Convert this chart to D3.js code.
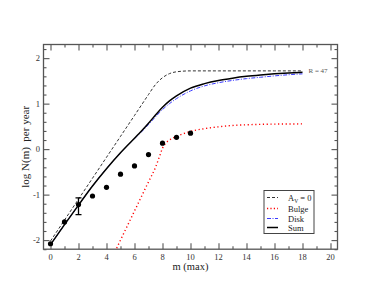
<!DOCTYPE html>
<html>
<head>
<meta charset="utf-8">
<script src="https://cdn.jsdelivr.net/npm/d3@7"></script>
<style>
  body { margin: 0; background: #fff; }
  svg { display: block; }
  svg text { font-family: "Liberation Serif", "Times New Roman", Times, "DejaVu Serif", serif; }
</style>
</head>
<body>
<div id="chart"></div>
<script>
const width = 380;
const height = 294;

// observed points (m, log N)
const obsM = [0, 1, 2, 3, 4, 5, 6, 7, 8, 9, 10];
const obsLogN = [-2.08, -1.6, -1.22, -1.03, -0.84, -0.55, -0.37, -0.12, 0.13, 0.26, 0.35];
const errM = 2;
const errLo = -1.44;
const errHi = -1.07;

// model curves
const avZeroM = [0, 1, 2, 3, 4, 5, 6, 6.5, 7, 7.5, 8, 8.5, 9, 10, 12, 14, 16, 18];
const avZeroN = [-2.02, -1.56, -1.1, -0.64, -0.18, 0.28, 0.74, 0.97, 1.2, 1.42, 1.57, 1.66, 1.7, 1.72, 1.72, 1.72, 1.72, 1.72];

const sumM = [0, 1, 2, 3, 4, 5, 6, 6.5, 7, 7.5, 8, 8.5, 9, 10, 11, 12, 13, 14, 15, 16, 17, 18];
const sumN = [-2.1, -1.66, -1.23, -0.81, -0.43, -0.08, 0.24, 0.4, 0.57, 0.75, 0.92, 1.06, 1.17, 1.34, 1.44, 1.51, 1.56, 1.6, 1.63, 1.655, 1.675, 1.69];

const diskM = [0, 1, 2, 3, 4, 5, 6, 6.5, 7, 7.5, 8, 8.5, 9, 10, 11, 12, 13, 14, 15, 16, 17, 18];
const diskN = [-2.1, -1.66, -1.23, -0.81, -0.43, -0.08, 0.23, 0.38, 0.54, 0.71, 0.87, 1.0, 1.11, 1.28, 1.39, 1.46, 1.51, 1.55, 1.58, 1.61, 1.635, 1.655];

const bulgeM = [4.5, 5, 5.5, 6, 6.5, 7, 7.5, 7.8, 8, 8.2, 8.5, 9, 9.5, 10, 11, 12, 13, 14, 15, 16, 17, 18];
const bulgeN = [-2.33, -2.0, -1.68, -1.36, -1.04, -0.72, -0.4, -0.15, 0.02, 0.12, 0.2, 0.28, 0.34, 0.39, 0.45, 0.49, 0.52, 0.535, 0.545, 0.55, 0.552, 0.555];

const xMajor = [0, 2, 4, 6, 8, 10, 12, 14, 16, 18, 20];
const xMinor = [1, 3, 5, 7, 9, 11, 13, 15, 17, 19];
const yMajor = [-2, -1, 0, 1, 2];
const yMinor = [-2.2, -1.8, -1.6, -1.4, -1.2, -0.8, -0.6, -0.4, -0.2, 0.2, 0.4, 0.6, 0.8, 1.2, 1.4, 1.6, 1.8, 2.2];

const legendLabels = ["Av", "Bulge", "Disk", "Sum"];

const x = d3.scaleLinear().domain([-0.5, 20.5]).range([43.5, 337.5]);
const y = d3.scaleLinear().domain([-2.2, 2.3]).range([249.2, 44.5]);

const svg = d3.select("#chart").append("svg")
  .attr("width", width)
  .attr("height", height);

const plotBottom = y.range()[0], plotTop = y.range()[1];
const plotLeft = x.range()[0], plotRight = x.range()[1];

svg.append("defs").append("clipPath").attr("id", "plotclip")
  .append("rect")
  .attr("x", plotLeft).attr("y", plotTop)
  .attr("width", plotRight - plotLeft)
  .attr("height", plotBottom - plotTop);

const frameColor = "#555";

// axes: ticks pointing inward on all four sides
function tickAxis(axisFn, scale, vals, size, pos) {
  const g = svg.append("g")
    .attr("transform", pos)
    .call(axisFn(scale).tickValues(vals).tickSize(size).tickFormat(""));
  g.select(".domain").remove();
  g.selectAll(".tick line").attr("stroke", frameColor).attr("stroke-width", 1.1);
  return g;
}

tickAxis(d3.axisTop, x, xMajor, 6, `translate(0,${plotBottom})`);
tickAxis(d3.axisTop, x, xMinor, 3, `translate(0,${plotBottom})`);
tickAxis(d3.axisBottom, x, xMajor, 6, `translate(0,${plotTop})`);
tickAxis(d3.axisBottom, x, xMinor, 3, `translate(0,${plotTop})`);
tickAxis(d3.axisRight, y, yMajor, 6, `translate(${plotLeft},0)`);
tickAxis(d3.axisRight, y, yMinor, 3, `translate(${plotLeft},0)`);
tickAxis(d3.axisLeft, y, yMajor, 6, `translate(${plotRight},0)`);
tickAxis(d3.axisLeft, y, yMinor, 3, `translate(${plotRight},0)`);

svg.append("rect")
  .attr("x", plotLeft).attr("y", plotTop)
  .attr("width", plotRight - plotLeft).attr("height", plotBottom - plotTop)
  .attr("fill", "none").attr("stroke", frameColor).attr("stroke-width", 1.3);

// tick labels
svg.append("g").selectAll("text").data(xMajor).join("text")
  .attr("x", d => x(d)).attr("y", plotBottom + 10.3)
  .attr("text-anchor", "middle").attr("font-size", 8.5).attr("fill", "#333")
  .text(d => d);
svg.append("g").selectAll("text").data(yMajor).join("text")
  .attr("x", plotLeft - 3.5).attr("y", d => y(d) + 3)
  .attr("text-anchor", "end").attr("font-size", 8.5).attr("fill", "#333")
  .text(d => d);

// axis titles
svg.append("text")
  .attr("x", (plotLeft + plotRight) / 2).attr("y", 270)
  .attr("text-anchor", "middle").attr("font-size", 10.5).attr("fill", "#222")
  .text("m (max)");
svg.append("text")
  .attr("transform", `translate(29,${(plotTop + plotBottom) / 2}) rotate(-90)`)
  .attr("text-anchor", "middle").attr("font-size", 11).attr("fill", "#222")
  .style("white-space", "pre")
  .text("log N(m)  per year");

// curves
const line = d3.line().x(d => x(d[0])).y(d => y(d[1])).curve(d3.curveMonotoneX);
const plot = svg.append("g").attr("clip-path", "url(#plotclip)");

plot.append("path").datum(d3.zip(avZeroM, avZeroN))
  .attr("d", line).attr("fill", "none")
  .attr("stroke", "#333").attr("stroke-width", 1).attr("stroke-dasharray", "3,2");
plot.append("path").datum(d3.zip(bulgeM, bulgeN))
  .attr("d", line).attr("fill", "none")
  .attr("stroke", "#f00").attr("stroke-width", 1.4).attr("stroke-dasharray", "1.2,2.6");
plot.append("path").datum(d3.zip(diskM, diskN))
  .attr("d", line).attr("fill", "none")
  .attr("stroke", "#3a3aff").attr("stroke-width", 1).attr("stroke-dasharray", "4,1.5,1,1.5");
plot.append("path").datum(d3.zip(sumM, sumN))
  .attr("d", line).attr("fill", "none")
  .attr("stroke", "#000").attr("stroke-width", 1.5);

// error bar at m = 2
const eb = plot.append("g").attr("stroke", "#000").attr("stroke-width", 1.3);
eb.append("line").attr("x1", x(errM)).attr("x2", x(errM)).attr("y1", y(errLo)).attr("y2", y(errHi));
eb.append("line").attr("x1", x(errM) - 3).attr("x2", x(errM) + 3).attr("y1", y(errLo)).attr("y2", y(errLo));
eb.append("line").attr("x1", x(errM) - 3).attr("x2", x(errM) + 3).attr("y1", y(errHi)).attr("y2", y(errHi));

plot.append("g").selectAll("circle").data(d3.zip(obsM, obsLogN)).join("circle")
  .attr("cx", d => x(d[0])).attr("cy", d => y(d[1])).attr("r", 2.6)
  .attr("fill", "#000");

// R = 47 label
svg.append("text")
  .attr("x", x(18) + 6).attr("y", y(1.72) + 2.5)
  .attr("font-size", 7).attr("fill", "#555")
  .text("R = 47");

// legend
const lg = svg.append("g");
lg.append("rect")
  .attr("x", 264).attr("y", 190.5).attr("width", 50).attr("height", 43)
  .attr("fill", "#fff").attr("stroke", "#444").attr("stroke-width", 1);
const legStyles = [
  { stroke: "#333", w: 1, dash: "3,2" },
  { stroke: "#f00", w: 1.4, dash: "1.2,2.2" },
  { stroke: "#3a3aff", w: 1, dash: "4,1.5,1,1.5" },
  { stroke: "#000", w: 1.5, dash: null }
];
const legY = [197.5, 208.5, 218.5, 227.5];
legendLabels.forEach((lab, i) => {
  lg.append("line")
    .attr("x1", 267).attr("x2", 278).attr("y1", legY[i]).attr("y2", legY[i])
    .attr("stroke", legStyles[i].stroke).attr("stroke-width", legStyles[i].w)
    .attr("stroke-dasharray", legStyles[i].dash);
  const t = lg.append("text")
    .attr("x", 288).attr("y", legY[i] + 3)
    .attr("font-size", 8.5).attr("fill", "#222");
  if (i === 0) {
    t.append("tspan").text("A");
    t.append("tspan").attr("font-size", 5.5).attr("dy", 2).text("V");
    t.append("tspan").attr("dy", -2).text(" = 0");
  } else {
    t.text(lab);
  }
});
</script>
</body>
</html>
